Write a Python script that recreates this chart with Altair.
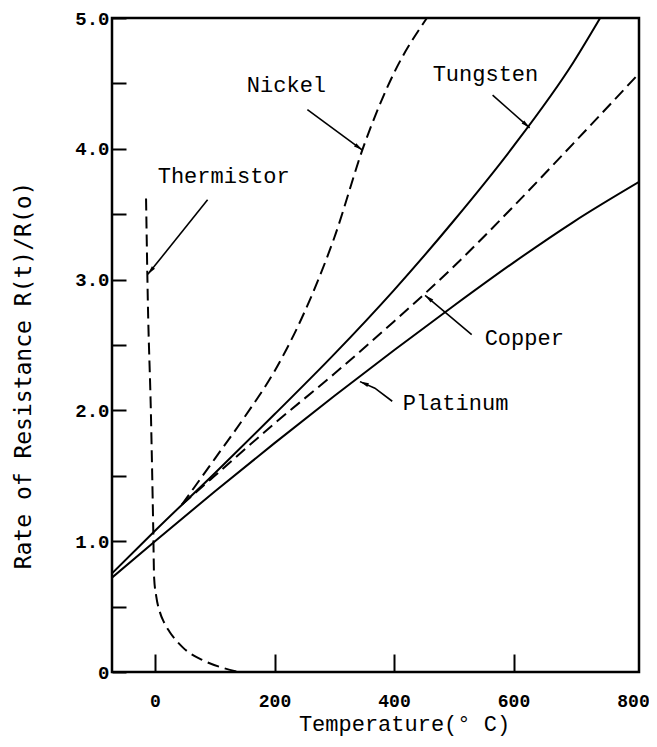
import math
import altair as alt
import pandas as pd

# ---------------- data ----------------
platinum_t = [-75, 0, 100, 200, 300, 400, 500, 600, 700, 815]
platinum_r = [0.71, 1.00, 1.38, 1.75, 2.11, 2.46, 2.80, 3.13, 3.44, 3.76]

tungsten_t = [-75, 0, 100, 200, 300, 400, 500, 600, 700, 745]
tungsten_r = [0.74, 1.08, 1.52, 1.97, 2.43, 2.92, 3.45, 4.02, 4.66, 5.00]

copper_t = [45, 100, 200, 300, 400, 500, 600, 700, 815]
copper_r = [1.28, 1.50, 1.90, 2.28, 2.68, 3.10, 3.56, 4.04, 4.60]

nickel_t = [45, 100, 150, 200, 250, 300, 350, 400, 455]
nickel_r = [1.28, 1.63, 1.95, 2.30, 2.75, 3.32, 4.03, 4.58, 5.00]

thermistor_t = [-15, -12, -7, -3, -1.5, 2, 8, 15, 24, 46, 80, 115, 140]
thermistor_r = [3.62, 2.83, 2.00, 1.10, 0.72, 0.58, 0.46, 0.38, 0.31, 0.19, 0.09, 0.03, 0.00]

label_text = ["Nickel", "Thermistor", "Tungsten", "Copper", "Platinum"]
label_t = [220, 115, 553, 618, 503]
label_r = [4.49, 3.79, 4.57, 2.55, 2.06]

arrow_id = ["Nickel", "Nickel", "Thermistor", "Thermistor", "Tungsten", "Tungsten",
            "Copper", "Copper", "Platinum", "Platinum", "Platinum"]
arrow_t = [255, 347, 88, -12, 565, 627, 530, 452, 397, 368, 343]
arrow_r = [4.30, 3.99, 3.61, 3.04, 4.41, 4.16, 2.58, 2.88, 2.07, 2.17, 2.22]

x_ticks = [0, 200, 400, 600, 800]
y_ticks = [0, 0.5, 1.0, 1.5, 2.0, 2.5, 3.0, 3.5, 4.0, 4.5, 5.0]

# ---------------- layout ----------------
X_MIN, X_MAX = -72, 810
Y_MIN, Y_MAX = 0, 5
W, H = 527, 654

# ---------------- tables ----------------
rows = []
for name, ts, rs, style in [
    ("Platinum", platinum_t, platinum_r, "solid"),
    ("Tungsten", tungsten_t, tungsten_r, "solid"),
    ("Copper", copper_t, copper_r, "dash"),
    ("Nickel", nickel_t, nickel_r, "dash"),
    ("Thermistor", thermistor_t, thermistor_r, "dash"),
]:
    for i, (t, r) in enumerate(zip(ts, rs)):
        rows.append({"series": name, "t": t, "r": r, "i": i, "style": style})
curves = pd.DataFrame(rows)

labels = pd.DataFrame({"text": label_text, "t": label_t, "r": label_r})

arrows = pd.DataFrame({"id": arrow_id, "t": arrow_t, "r": arrow_r})
arrows["i"] = arrows.groupby("id").cumcount()

sx = W / (X_MAX - X_MIN)
sy = H / (Y_MAX - Y_MIN)
heads = []
for aid in dict.fromkeys(arrow_id):
    sub = arrows[arrows["id"] == aid]
    p0, p1 = sub.iloc[-2], sub.iloc[-1]
    dx = (p1["t"] - p0["t"]) * sx
    dy = -(p1["r"] - p0["r"]) * sy
    ang = math.degrees(math.atan2(dx, -dy)) % 360
    heads.append({"id": aid, "t": p1["t"], "r": p1["r"], "angle": ang})
heads = pd.DataFrame(heads)

# ---------------- scales / axes ----------------
xscale = alt.Scale(domain=[X_MIN, X_MAX], nice=False, zero=False)
yscale = alt.Scale(domain=[Y_MIN, Y_MAX], nice=False, zero=False)

x_axis = alt.Axis(
    values=x_ticks, title="Temperature(° C)", grid=False, domain=False,
    tickSize=18, offset=-18, tickWidth=2, tickColor="black",
    tickOpacity={"condition": {"test": "datum.value === 800", "value": 0}, "value": 1},
    labelFont="Liberation Mono", labelFontSize=18, labelFontWeight="bold",
    labelColor="black", labelPadding=20,
    titleFont="Liberation Mono", titleFontSize=22, titleFontWeight="normal",
    titleColor="black", titlePadding=3, titleX=292,
)
y_axis = alt.Axis(
    values=y_ticks, title="Rate of Resistance R(t)/R(o)", grid=False, domain=False,
    tickSize=14, offset=-14, tickWidth=2, tickColor="black",
    labelExpr="datum.value % 1 === 0 ? (datum.value === 0 ? '0' : format(datum.value, '.1f')) : ''",
    labelFont="Liberation Mono", labelFontSize=19, labelFontWeight="bold",
    labelColor="black", labelPadding=3,
    titleFont="DejaVu Sans Mono", titleFontSize=23, titleFontWeight="normal",
    titleColor="black", titlePadding=39, titleY=357,
)

base = alt.Chart(curves)

solid = base.transform_filter(alt.datum.style == "solid").mark_line(
    color="black", strokeWidth=2, interpolate="monotone", clip=True
).encode(
    x=alt.X("t:Q", scale=xscale, axis=x_axis),
    y=alt.Y("r:Q", scale=yscale, axis=y_axis),
    detail="series:N",
    order="i:Q",
)

dashed = base.transform_filter(alt.datum.style == "dash").mark_line(
    color="black", strokeWidth=2, strokeDash=[12, 6], interpolate="monotone", clip=True
).encode(
    x=alt.X("t:Q", scale=xscale),
    y=alt.Y("r:Q", scale=yscale),
    detail="series:N",
    order="i:Q",
)

arrow_lines = alt.Chart(arrows).mark_line(color="black", strokeWidth=1.6).encode(
    x=alt.X("t:Q", scale=xscale),
    y=alt.Y("r:Q", scale=yscale),
    detail="id:N",
    order="i:Q",
)

arrow_heads = alt.Chart(heads).mark_point(
    shape="M0,0L0.9,4L-0.9,4Z", filled=True, color="black", opacity=1, size=20
).encode(
    x=alt.X("t:Q", scale=xscale),
    y=alt.Y("r:Q", scale=yscale),
    angle=alt.Angle("angle:Q", scale=None),
)

text = alt.Chart(labels).mark_text(
    font="Liberation Mono", fontSize=22, color="black", align="center", baseline="middle"
).encode(
    x=alt.X("t:Q", scale=xscale),
    y=alt.Y("r:Q", scale=yscale),
    text="text:N",
)

chart = alt.layer(solid, dashed, arrow_lines, arrow_heads, text).properties(
    width=W, height=H,
    background="white",
    autosize=alt.AutoSizeParams(type="none"),
    padding={"left": 104, "top": 10, "right": 10, "bottom": 67},
).configure_view(stroke="black", strokeWidth=2.5)

chart.save("out.html", embed_options={"renderer": "svg", "actions": False})
